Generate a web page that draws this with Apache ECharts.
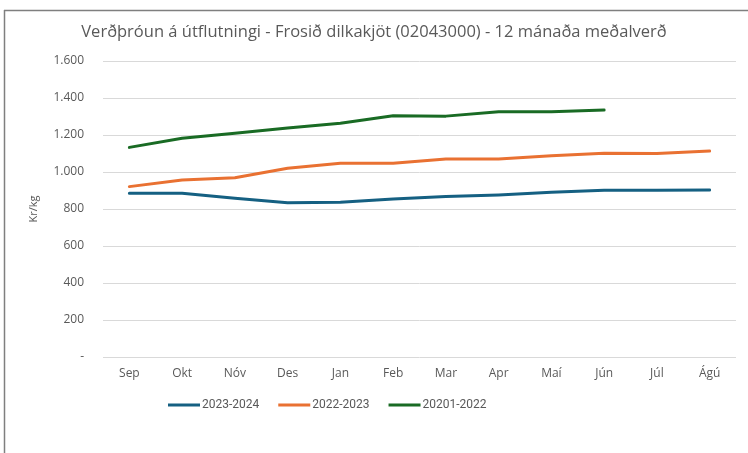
<!DOCTYPE html>
<html><head><meta charset="utf-8">
<script src="https://cdn.jsdelivr.net/npm/echarts@6/dist/echarts.min.js"></script>
<style>html,body{margin:0;padding:0;background:#fff}#c{width:748px;height:453px}</style>
</head><body><div id="c"></div>
<script>
const categories = ['Sep','Okt','Nóv','Des','Jan','Feb','Mar','Apr','Maí','Jún','Júl','Ágú'];
const s2023_2024 = [885, 885, 858, 834, 836, 854, 867, 876, 890, 901, 901, 903];
const s2022_2023 = [921, 957, 969, 1020, 1047, 1047, 1070, 1070, 1088, 1101, 1100, 1113];
const s2021_2022 = [1133, 1182, 1209, 1238, 1263, 1304, 1302, 1326, 1326, 1335, null, null];
const seriesNames = ['2023-2024', '2022-2023', '20201-2022'];
const colors = ['#156082', '#E97132', '#196B24'];

const chart = echarts.init(document.getElementById('c'));
const fmt = v => v === 0 ? '-' : v.toLocaleString('de-DE');
chart.setOption({
  animation: false,
  textStyle: { fontFamily: '"Open Sans", Roboto, sans-serif' },
  title: {
    text: 'Verðþróun á útflutningi - Frosið dilkakjöt (02043000) - 12 mánaða meðalverð',
    left: 'center', top: 19,
    textStyle: { fontSize: 16.5, fontWeight: 'normal', color: '#595959', fontFamily: '"Open Sans", sans-serif' }
  },
  graphic: [
    { type: 'line', shape: { x1: 4, y1: 10.5, x2: 748, y2: 10.5 }, style: { stroke: '#7f7f7f', lineWidth: 1.5 } },
    { type: 'line', shape: { x1: 4.5, y1: 10, x2: 4.5, y2: 453 }, style: { stroke: '#7f7f7f', lineWidth: 1.5 } }
  ],
  legend: {
    top: 399, left: 168, padding: 0,
    itemWidth: 32, itemHeight: 3, itemGap: 19, icon: 'rect',
    textStyle: { fontSize: 12, color: '#595959', fontFamily: 'Roboto, sans-serif', padding: [0, 0, 0, -3] },
    data: seriesNames
  },
  grid: { left: 103, right: 12, top: 61, bottom: 96 },
  xAxis: {
    type: 'category', data: categories, boundaryGap: true,
    axisLine: { show: false }, axisTick: { show: false },
    axisLabel: { fontSize: 12, color: '#595959', margin: 11 }
  },
  yAxis: {
    type: 'value', min: 0, max: 1600, interval: 200,
    name: 'Kr/kg', nameLocation: 'middle', nameGap: 64, nameRotate: 90,
    nameTextStyle: { fontSize: 11, color: '#595959' },
    axisLine: { show: false }, axisTick: { show: false },
    axisLabel: { fontSize: 12, color: '#595959', margin: 19, formatter: fmt },
    splitLine: { lineStyle: { color: '#d9d9d9', width: 1 } }
  },
  series: [s2023_2024, s2022_2023, s2021_2022].map((d, i) => ({
    name: seriesNames[i], type: 'line', data: d, showSymbol: false, symbol: 'none',
    lineStyle: { width: 3, color: colors[i], cap: 'round', join: 'round' },
    itemStyle: { color: colors[i] }
  }))
});
</script></body></html>
